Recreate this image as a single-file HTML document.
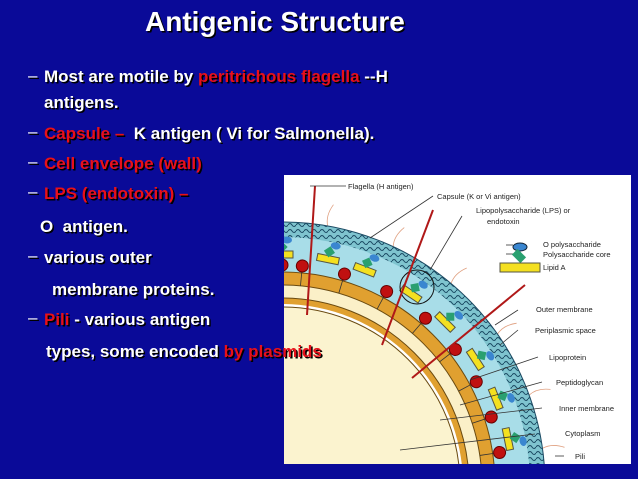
<!DOCTYPE html>
<html style="margin:0;overflow:hidden;width:638px;height:479px;"><head><style>
body{margin:0;width:638px;height:479px;background:#0a0a98;overflow:hidden;position:relative;font-family:"Liberation Sans",sans-serif;font-weight:bold;}
.t{position:absolute;color:#fff;font-size:17px;white-space:nowrap;text-shadow:1.5px 1.5px 0 #000;line-height:20px;}
.r{color:#e8101a;}
.d{position:absolute;color:#fff;font-size:17px;font-weight:normal;text-shadow:1.5px 1.5px 0 #000;line-height:20px;}
</style></head><body>
<div class="t" style="left:145px;top:7px;font-size:28px;line-height:30px;">Antigenic Structure</div>
<svg style="position:absolute;left:284px;top:175px" width="347" height="289" viewBox="284 175 347 289">
<defs><clipPath id="c"><rect x="284" y="175" width="347" height="289"/></clipPath>
<pattern id="p" width="8" height="6" patternUnits="userSpaceOnUse"><rect width="8" height="6" fill="#7fc4cf"/><path d="M0 3 Q2 0 4 3 T8 3" stroke="#1b4a63" fill="none" stroke-width="1"/></pattern></defs>
<rect x="284" y="175" width="347" height="289" fill="#fff"/>
<g clip-path="url(#c)">
<g id="pl"><path d="M282 222 q-4 -10 2 -22" stroke="#e0a080" fill="none" stroke-width="0.8"/></g>
<use href="#pl" transform="rotate(10 282 485)"/><use href="#pl" transform="rotate(25 282 485)"/><use href="#pl" transform="rotate(40 282 485)"/><use href="#pl" transform="rotate(55 282 485)"/><use href="#pl" transform="rotate(70 282 485)"/><use href="#pl" transform="rotate(82 282 485)"/>
<circle cx="282" cy="485" r="263" fill="url(#p)" stroke="#1b4a63"/>
<circle cx="282" cy="485" r="248" fill="#a8dde8"/>
<circle cx="282" cy="485" r="213" fill="#e0a030" stroke="#6a4a10"/>
<circle cx="282" cy="485" r="200" fill="#fbf0c8" stroke="#6a4a10"/>
<circle cx="282" cy="485" r="187" fill="#e0a030" stroke="#6a4a10"/>
<circle cx="282" cy="485" r="181" fill="#fff"/>
<circle cx="282" cy="485" r="178" fill="#fbf3cf" stroke="#6a4a10"/>
<g id="u">
<line x1="282" y1="270" x2="282" y2="285" stroke="#333" stroke-width="0.8"/>
<circle cx="282" cy="265" r="6" fill="#c01010" stroke="#600"/>
</g>
<use href="#u" transform="rotate(5.3 282 485)"/><use href="#u" transform="rotate(16.5 282 485)"/><use href="#u" transform="rotate(28.4 282 485)"/><use href="#u" transform="rotate(40.7 282 485)"/><use href="#u" transform="rotate(52 282 485)"/><use href="#u" transform="rotate(62 282 485)"/><use href="#u" transform="rotate(72 282 485)"/><use href="#u" transform="rotate(81.5 282 485)"/>
<g id="l">
<rect x="271" y="251" width="22" height="7" fill="#f4e020" stroke="#554"/>
<rect x="278" y="243" width="8" height="8" fill="#2aa070" transform="rotate(45 282 247)"/>
<ellipse cx="287" cy="240" rx="5" ry="3.5" fill="#3a86d0"/>
</g>
<use href="#l" transform="rotate(11.5 282 485)"/><use href="#l" transform="rotate(21 282 485)"/><use href="#l" transform="rotate(34 282 485)"/><use href="#l" transform="rotate(45 282 485)"/><use href="#l" transform="rotate(57 282 485)"/><use href="#l" transform="rotate(68 282 485)"/><use href="#l" transform="rotate(78.5 282 485)"/>
<circle cx="417" cy="287" r="17" fill="none" stroke="#111"/>
<g stroke="#b01818" stroke-width="2" fill="none"><path d="M315 186 L307 315"/><path d="M433 210 L382 345"/><path d="M525 285 L412 378"/></g>
</g>
<g stroke="#333" stroke-width="0.8" fill="none">
<path d="M346 186 H310"/><path d="M433 196 L370 238"/><path d="M462 216 L430 270"/><path d="M518 310 L495 325"/><path d="M518 330 L500 345"/><path d="M538 357 L470 380"/><path d="M542 382 L460 405"/><path d="M542 408 L440 420"/><path d="M535 434 L400 450"/><path d="M564 456 H555"/>
<path d="M513 245 H506"/><path d="M513 254 H506"/></g>
<g font-family="Liberation Sans,sans-serif" font-size="7.5" font-weight="normal" fill="#222">
<text x="348" y="189">Flagella (H antigen)</text>
<text x="437" y="199">Capsule (K or Vi antigen)</text>
<text x="476" y="213">Lipopolysaccharide (LPS) or</text>
<text x="487" y="224">endotoxin</text>
<text x="543" y="247">O polysaccharide</text>
<text x="543" y="257">Polysaccharide core</text>
<text x="543" y="270">Lipid A</text>
<text x="536" y="312">Outer membrane</text>
<text x="535" y="333">Periplasmic space</text>
<text x="549" y="360">Lipoprotein</text>
<text x="556" y="385">Peptidoglycan</text>
<text x="559" y="411">Inner membrane</text>
<text x="565" y="436">Cytoplasm</text>
<text x="575" y="459">Pili</text>
</g>
<ellipse cx="520" cy="247" rx="7" ry="4" fill="#3a86d0" stroke="#123"/>
<rect x="513" y="252" width="12" height="8" fill="#2aa070" transform="rotate(45 519 256)"/>
<rect x="500" y="263" width="40" height="9" fill="#f4e020" stroke="#554"/>
</svg>
<div class="d" style="left:28px;top:66px;">–</div>
<div class="t" style="left:44px;top:67px;">Most are motile by <span class="r">peritrichous flagella</span> --H</div>
<div class="t" style="left:44px;top:93px;">antigens.</div>
<div class="d" style="left:28px;top:122px;">–</div>
<div class="t" style="left:44px;top:124px;"><span class="r">Capsule – </span>&nbsp;K antigen ( Vi for Salmonella).</div>
<div class="d" style="left:28px;top:152px;">–</div>
<div class="t" style="left:44px;top:154px;"><span class="r">Cell envelope (wall)</span></div>
<div class="d" style="left:28px;top:182px;">–</div>
<div class="t" style="left:44px;top:184px;"><span class="r">LPS (endotoxin) –</span></div>
<div class="t" style="left:40px;top:217px;">O &nbsp;antigen.</div>
<div class="d" style="left:28px;top:246px;">–</div>
<div class="t" style="left:44px;top:248px;">various outer</div>
<div class="t" style="left:52px;top:280px;">membrane proteins.</div>
<div class="d" style="left:28px;top:308px;">–</div>
<div class="t" style="left:44px;top:310px;"><span class="r">Pili</span> - various antigen</div>
<div class="t" style="left:46px;top:342px;">types, some encoded <span class="r">by plasmids</span></div>
</body></html>
